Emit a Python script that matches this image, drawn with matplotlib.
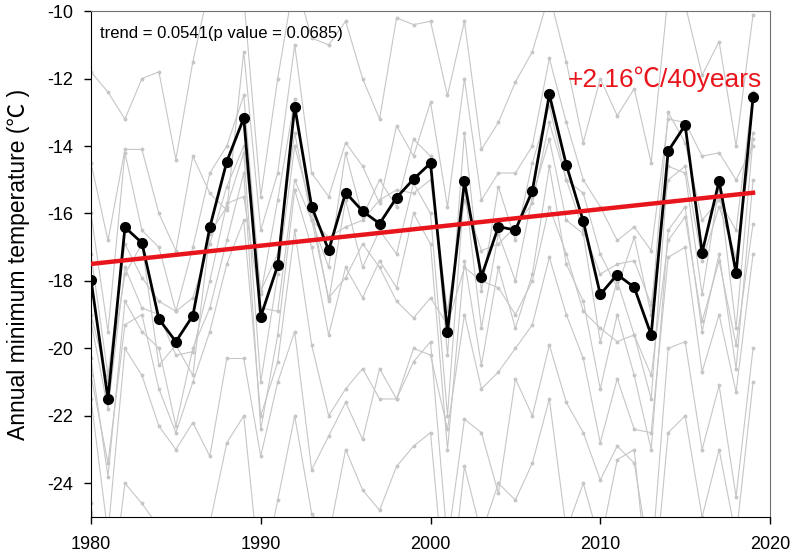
import numpy as np
import matplotlib.pyplot as plt

plt.rcParams['font.family'] = ['Liberation Sans', 'Noto Sans CJK KR', 'DejaVu Sans']
plt.rcParams['axes.unicode_minus'] = False

years = list(range(1980, 2020))

# regional mean (black line)
mean_temp = [-17.96, -21.50, -16.41, -16.87, -19.13, -19.80, -19.03, -16.41, -14.46, -13.17,
             -19.06, -17.54, -12.83, -15.80, -17.09, -15.38, -15.93, -16.30, -15.53, -14.98,
             -14.51, -19.50, -15.05, -17.87, -16.39, -16.49, -15.33, -12.47, -14.56, -16.23,
             -18.40, -17.81, -18.19, -19.60, -14.15, -13.38, -17.16, -15.04, -17.77, -12.56]

# individual stations (gray lines)
st1 = [-11.8, -12.4, -13.2, -12.0, -11.8, -14.4, -11.5, -9.2, -8.8, -9.6,
       -15.5, -12.0, -9.0, -10.8, -11.0, -10.3, -12.0, -13.2, -10.2, -10.4,
       -10.3, -12.5, -10.3, -14.1, -13.3, -12.1, -11.2, -9.5, -11.5, -13.9,
       -12.0, -13.1, -12.3, -14.5, -9.5, -9.8, -11.9, -10.9, -14.0, -10.1]
st2 = [-14.5, -16.8, -14.1, -14.1, -16.0, -17.1, -14.3, -15.4, -15.9, -11.2,
       -16.5, -14.8, -11.0, -14.8, -15.5, -13.9, -14.6, -15.7, -13.4, -14.3,
       -12.7, -15.8, -12.0, -15.6, -14.8, -14.8, -14.0, -11.4, -13.3, -15.0,
       -15.8, -16.8, -16.4, -17.1, -13.2, -13.3, -14.3, -14.2, -15.0, -14.0]
st3 = [-16.0, -19.5, -14.2, -16.5, -17.0, -18.9, -17.0, -14.8, -14.0, -12.5,
       -18.4, -15.6, -12.6, -16.2, -17.6, -14.2, -16.1, -15.0, -15.8, -13.8,
       -14.3, -20.2, -13.6, -18.3, -15.2, -16.8, -14.5, -12.8, -15.0, -15.4,
       -17.2, -18.2, -16.7, -19.0, -13.0, -13.9, -16.2, -15.6, -16.5, -12.4]
st4 = [-19.0, -21.0, -17.8, -16.9, -20.5, -19.9, -20.8, -16.6, -15.8, -14.2,
       -21.0, -17.8, -14.0, -15.9, -18.6, -15.6, -17.6, -16.5, -17.2, -15.1,
       -16.0, -22.0, -15.2, -19.4, -16.6, -18.0, -15.5, -13.8, -16.2, -16.6,
       -19.8, -18.0, -19.6, -21.5, -14.6, -14.8, -18.4, -15.2, -19.4, -13.8]
st5 = [-20.3, -23.8, -18.6, -19.5, -20.0, -22.3, -20.0, -18.8, -16.8, -14.8,
       -22.4, -19.6, -15.3, -17.0, -19.6, -17.6, -18.5, -17.4, -18.2, -16.0,
       -16.9, -23.0, -17.4, -20.5, -17.6, -19.4, -17.8, -14.6, -17.5, -18.6,
       -21.2, -19.0, -20.8, -23.0, -16.5, -15.8, -19.5, -17.2, -20.6, -15.0]
st6 = [-21.5, -25.5, -20.0, -20.8, -22.3, -23.0, -22.2, -23.2, -20.3, -20.3,
       -23.2, -21.0, -19.5, -23.6, -22.6, -21.6, -22.7, -20.6, -21.5, -20.4,
       -19.8, -25.8, -22.1, -22.5, -24.3, -20.9, -22.0, -19.9, -21.6, -22.5,
       -23.9, -22.9, -23.4, -26.5, -20.0, -19.8, -23.0, -21.1, -24.4, -20.0]
st7 = [-20.8, -23.4, -19.3, -19.0, -21.2, -22.5, -21.0, -19.5, -17.5, -16.2,
       -22.0, -20.4, -16.5, -19.9, -22.0, -21.2, -20.6, -21.5, -21.5, -20.0,
       -20.2, -22.4, -19.0, -21.2, -20.7, -20.0, -19.3, -17.3, -19.0, -20.3,
       -22.8, -20.9, -22.4, -22.5, -17.3, -17.0, -20.7, -19.0, -21.3, -17.2]
st8 = [-24.6, -28.0, -24.0, -24.6, -25.3, -26.0, -25.8, -25.2, -22.8, -22.0,
       -27.0, -24.5, -22.0, -24.9, -25.6, -23.0, -24.2, -24.8, -23.5, -22.9,
       -22.5, -28.0, -23.5, -25.5, -24.0, -24.5, -23.4, -21.5, -25.4, -24.0,
       -25.8, -23.3, -23.0, -28.0, -22.5, -22.0, -25.0, -23.0, -25.6, -21.0]
st9 = [-19.2, -21.8, -17.6, -18.8, -19.0, -20.2, -20.1, -18.0, -15.7, -15.5,
       -18.8, -18.9, -15.0, -16.2, -18.5, -17.9, -16.9, -17.6, -18.6, -19.1,
       -18.5, -19.3, -17.6, -18.0, -18.2, -19.0, -18.0, -15.8, -17.2, -18.9,
       -19.4, -19.8, -19.6, -20.8, -16.8, -16.1, -19.2, -17.4, -19.9, -16.3]
st10 = [-17.2, -20.8, -16.9, -17.9, -18.6, -18.9, -18.5, -16.9, -15.2, -14.0,
        -18.3, -17.2, -13.6, -16.2, -16.7, -16.4, -16.2, -15.6, -15.3, -15.4,
        -15.0, -18.9, -15.6, -17.1, -16.9, -16.4, -15.7, -13.3, -15.0, -16.5,
        -17.8, -17.5, -17.4, -18.7, -15.0, -14.6, -17.4, -15.8, -17.3, -13.6]

stations = [st1, st2, st3, st4, st5, st6, st7, st8, st9, st10]

fig = plt.figure(figsize=(7.94, 5.58), dpi=100)
ax = fig.add_axes([0.1146, 0.0735, 0.8552, 0.9065])

for st in stations:
    ax.plot(years, st, '-o', color='#c6c6c6', lw=0.8, ms=1.8, zorder=1)

ax.plot(years, mean_temp, '-o', color='black', lw=2, ms=7, zorder=3)

# linear trend of the mean
slope, intercept = np.polyfit(years, mean_temp, 1)
trend = np.polyval([slope, intercept], years)
ax.plot(years, trend, color='#e8161c', lw=3.2, zorder=4)

ax.text(0.013, 0.955, 'trend = 0.0541(p value = 0.0685)', transform=ax.transAxes,
        fontsize=12, va='center', ha='left')
ax.text(0.988, 0.866, '+2.16\u2103/40years', transform=ax.transAxes,
        fontsize=19, color='#e8161c', va='center', ha='right')

ax.set_xlim(1980, 2020)
ax.set_ylim(-25, -10)
ax.set_xticks([1980, 1990, 2000, 2010, 2020])
ax.set_yticks(range(-24, -9, 2))
ax.tick_params(labelsize=13, length=5, width=1, direction='out')
ax.tick_params(axis='y', pad=8)
ax.tick_params(axis='x', pad=9)
ax.set_ylabel('Annual minimum temperature (\u2103 )', fontsize=16.5)
ax.yaxis.set_label_coords(-0.09, 0.5)

for side in ['top', 'right']:
    ax.spines[side].set_color('#707070')

fig.savefig('out.png', dpi=100)
